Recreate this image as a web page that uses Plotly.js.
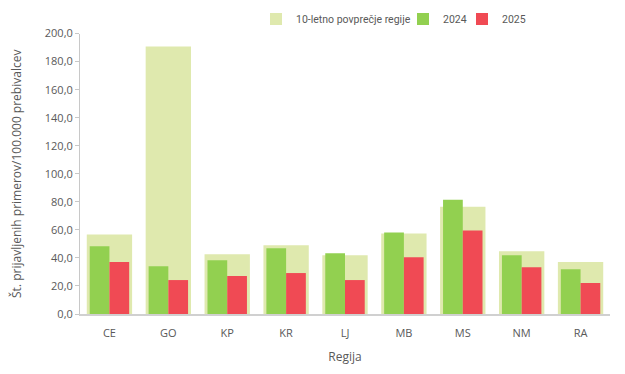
<!DOCTYPE html>
<html>
<head>
<meta charset="utf-8">
<script src="https://cdn.plot.ly/plotly-3.0.1.min.js"></script>
<style>html,body{margin:0;padding:0;background:#fff;}#chart{width:625px;height:374px;}</style>
</head>
<body>
<div id="chart"></div>
<script>
const regions = ['CE','GO','KP','KR','LJ','MB','MS','NM','RA'];
const avg10 = [56.7, 190.8, 42.6, 49.0, 41.9, 57.4, 76.5, 44.7, 37.0];
const y2024 = [48.3, 34.1, 38.4, 46.9, 43.3, 58.2, 81.5, 41.9, 32.0];
const y2025 = [37.0, 24.2, 27.1, 29.2, 24.2, 40.5, 59.6, 33.4, 22.1];
const seriesNames = ['10-letno povprečje regije', '2024', '2025'];
const yTicks = [0, 20, 40, 60, 80, 100, 120, 140, 160, 180, 200];

const font = {family: 'Open Sans, sans-serif', size: 11, color: '#595959'};

const traces = [
  {type:'bar', name: seriesNames[0], x: regions, y: avg10, width: 0.77, offset: -0.385,
   marker:{color:'#dfe9ae'}, hoverinfo:'y', legendwidth: 102},
  {type:'bar', name: seriesNames[1], x: regions, y: y2024, width: 0.335, offset: -0.335,
   marker:{color:'#92d050'}, hoverinfo:'y', legendwidth: 14},
  {type:'bar', name: seriesNames[2], x: regions, y: y2025, width: 0.335, offset: 0,
   marker:{color:'#f04a54'}, hoverinfo:'y', legendwidth: 30}
];

const layout = {
  width: 625, height: 374,
  margin: {l: 80, r: 15, t: 30, b: 60},
  paper_bgcolor: '#fff', plot_bgcolor: '#fff',
  font: font,
  separators: ',.',
  barmode: 'overlay',
  showlegend: true,
  legend: {orientation: 'h', xref: 'container', yref: 'container',
           x: 0.4096, y: 0.949, xanchor: 'left', yanchor: 'middle',
           font: {family: 'Roboto, sans-serif', size: 10.5, color: '#595959'},
           itemwidth: 30, traceorder: 'normal'},
  xaxis: {
    type: 'category', range: [-0.5, 8.5],
    showline: true, linecolor: '#d0d0d0', linewidth: 1.5,
    ticks: 'outside', ticklen: 8, tickcolor: 'rgba(0,0,0,0)',
    showgrid: false, zeroline: false,
    tickfont: {size: 11, color: '#595959'},
    title: {text: 'Regija', font: {size: 12, color: '#595959'}, standoff: 14}
  },
  yaxis: {
    range: [0, 200], tickvals: yTicks, tickformat: '.1f',
    showline: true, linecolor: '#c8c8c8', linewidth: 1,
    ticks: 'outside', ticklen: 4, tickcolor: '#c8c8c8',
    showgrid: false, zeroline: false,
    tickfont: {size: 11, color: '#595959'},
    title: {text: 'Št. prijavljenih primerov/100.000 prebivalcev', font: {size: 12, color: '#595959'}, standoff: 20}
  }
};

Plotly.newPlot('chart', traces, layout, {displayModeBar: false, staticPlot: true});
</script>
</body>
</html>
